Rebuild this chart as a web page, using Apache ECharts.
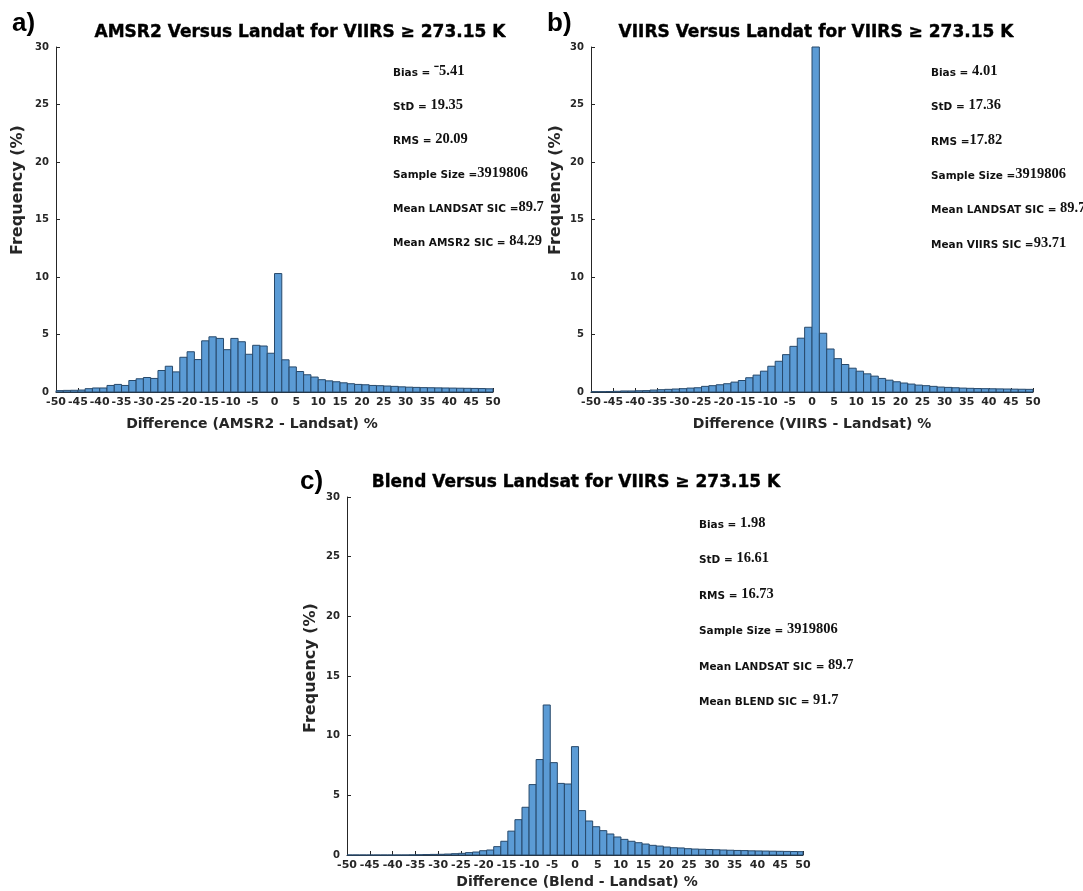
<!DOCTYPE html>
<html>
<head>
<meta charset="utf-8">
<script src="https://cdn.jsdelivr.net/npm/echarts@6/dist/echarts.min.js"></script>
<style>
html, body { margin: 0; padding: 0; background: #fff; }
#chart { width: 1083px; height: 891px; }
</style>
</head>
<body>
<div id="chart"></div>
<script>
// histogram frequencies (%)
// a) and b): 60 bins of width 5/3 starting at -50
var amsr2Freq = [
  0.12, 0.14, 0.15, 0.17, 0.29, 0.35, 0.35, 0.57, 0.66, 0.57,
  1.0, 1.15, 1.26, 1.18, 1.87, 2.24, 1.75, 3.02, 3.5, 2.82,
  4.45, 4.8, 4.66, 3.68, 4.66, 4.37, 3.28, 4.06, 4.0, 3.37,
  10.3, 2.8, 2.18, 1.78, 1.5, 1.3, 1.07, 0.97, 0.89, 0.8,
  0.72, 0.66, 0.63, 0.57, 0.55, 0.52, 0.49, 0.45, 0.42, 0.4,
  0.38, 0.37, 0.36, 0.35, 0.34, 0.33, 0.32, 0.31, 0.3, 0.28
];
var viirsFreq = [
  0.03, 0.03, 0.04, 0.06, 0.09, 0.09, 0.11, 0.12, 0.17, 0.2,
  0.23, 0.26, 0.29, 0.34, 0.37, 0.49, 0.55, 0.63, 0.72, 0.86,
  1.0, 1.24, 1.47, 1.81, 2.24, 2.67, 3.25, 3.97, 4.68, 5.63,
  30, 5.11, 3.74, 2.9, 2.39, 2.07, 1.81, 1.58, 1.38, 1.18,
  1.03, 0.89, 0.78, 0.69, 0.6, 0.55, 0.49, 0.43, 0.4, 0.37,
  0.34, 0.32, 0.3, 0.29, 0.28, 0.27, 0.26, 0.25, 0.24, 0.23
];
// c): 65 bins of width 1.55 centred on 0 (centres -32*1.55 .. 32*1.55)
var blendFreq = [
  0, 0, 0, 0, 0, 0, 0, 0, 0, 0.01,
  0.02, 0.04, 0.05, 0.06, 0.08, 0.11, 0.14, 0.2, 0.25, 0.36,
  0.42, 0.7, 1.15, 2.0, 2.96, 4.0, 5.9, 8.0, 12.57, 7.74,
  6.0, 5.95, 9.08, 3.72, 2.85, 2.37, 2.04, 1.76, 1.51, 1.31,
  1.15, 1.03, 0.92, 0.81, 0.75, 0.67, 0.61, 0.59, 0.53, 0.5,
  0.48, 0.46, 0.44, 0.42, 0.4, 0.38, 0.37, 0.35, 0.34, 0.33,
  0.32, 0.31, 0.3, 0.29, 0.28
];

var panelTitles = [
  'AMSR2 Versus Landat for VIIRS \u2265 273.15 K',
  'VIIRS Versus Landat for VIIRS \u2265 273.15 K',
  'Blend Versus Landsat for VIIRS \u2265 273.15 K'
];
var xTitles = [
  'Difference (AMSR2 - Landsat) %',
  'Difference (VIIRS - Landsat) %',
  'Difference (Blend - Landsat) %'
];
var statLabels = [
  ['Bias = ', 'StD = ', 'RMS = ', 'Sample Size =', 'Mean LANDSAT SIC =', 'Mean AMSR2 SIC = '],
  ['Bias = ', 'StD = ', 'RMS =', 'Sample Size =', 'Mean LANDSAT SIC = ', 'Mean VIIRS SIC ='],
  ['Bias = ', 'StD = ', 'RMS = ', 'Sample Size = ', 'Mean LANDSAT SIC = ', 'Mean BLEND SIC = ']
];
var statValues = [
  ['\u207b5.41', '19.35', '20.09', '3919806', '89.7', '84.29'],
  ['4.01', '17.36', '17.82', '3919806', '89.7', '93.71'],
  ['1.98', '16.61', '16.73', '3919806', '89.7', '91.7']
];

var BAR_FILL = '#5b9bd5';
var BAR_LINE = '#27496b';
var AXIS_COLOR = '#262626';
var LABEL_FONT = 'DejaVu Sans';

function binsFrom(freq, start, width) {
  var out = [];
  for (var i = 0; i < freq.length; i++) {
    out.push([start + i * width, start + (i + 1) * width, freq[i]]);
  }
  return out;
}

function renderBar(params, api) {
  var top = api.coord([api.value(0), api.value(2)]);
  var bottom = api.coord([api.value(1), 0]);
  var cs = params.coordSys;
  var shape = echarts.graphic.clipRectByRect(
    { x: top[0], y: top[1], width: bottom[0] - top[0], height: bottom[1] - top[1] },
    { x: cs.x, y: cs.y - 1, width: cs.width, height: cs.height + 1 }
  );
  return shape && {
    type: 'rect',
    shape: shape,
    style: { fill: BAR_FILL, stroke: BAR_LINE, lineWidth: 1 }
  };
}

var grids = [
  { left: 56, top: 47, width: 437, height: 345 },
  { left: 591, top: 47, width: 442, height: 345 },
  { left: 347, top: 497, width: 456, height: 358 }
];
var seriesData = [
  binsFrom(amsr2Freq, -50, 5 / 3),
  binsFrom(viirsFreq, -50, 5 / 3),
  binsFrom(blendFreq, -32.5 * 1.55, 1.55)
];

var xAxes = [], yAxes = [], series = [];
for (var i = 0; i < 3; i++) {
  xAxes.push({
    type: 'value', gridIndex: i, min: -50, max: 50, interval: 5,
    axisLine: { show: true, onZero: false, lineStyle: { color: AXIS_COLOR, width: 1 } },
    axisTick: { show: true, inside: true, length: 4, lineStyle: { color: AXIS_COLOR } },
    axisLabel: { color: AXIS_COLOR, fontFamily: LABEL_FONT, fontWeight: 'bold', fontSize: 11, margin: 5 },
    splitLine: { show: false }
  });
  yAxes.push({
    type: 'value', gridIndex: i, min: 0, max: 30, interval: 5,
    axisLine: { show: true, onZero: false, lineStyle: { color: AXIS_COLOR, width: 1 } },
    axisTick: { show: true, inside: true, length: 4, lineStyle: { color: AXIS_COLOR } },
    axisLabel: { color: AXIS_COLOR, fontFamily: LABEL_FONT, fontWeight: 'bold', fontSize: 10, margin: 7 },
    splitLine: { show: false }
  });
  series.push({
    type: 'custom', xAxisIndex: i, yAxisIndex: i,
    renderItem: renderBar,
    encode: { x: [0, 1], y: 2 },
    data: seriesData[i],
    silent: true
  });
}

// text placement
var titlePos = [[300, 33], [816, 33], [576, 483]];
var tagPos = [[12, 24, 'a)'], [547, 24, 'b)'], [300, 482, 'c)']];
var yTitlePos = [[18, 190], [556, 190], [311, 668]];
var xTitlePos = [[252, 424], [812, 424], [577, 882]];
var statPos = [[393, 71, 34], [931, 71, 34.4], [699, 523, 35.5]];

var graphics = [];
for (var p = 0; p < 3; p++) {
  graphics.push({
    type: 'text', x: titlePos[p][0], y: titlePos[p][1],
    style: {
      text: panelTitles[p], fill: '#000', align: 'center', verticalAlign: 'middle',
      font: 'bold 17px "DejaVu Sans", sans-serif',
      stroke: '#000', lineWidth: 0.4
    }
  });
  graphics.push({
    type: 'text', x: tagPos[p][0], y: tagPos[p][1],
    style: {
      text: tagPos[p][2], fill: '#000', align: 'left', verticalAlign: 'middle',
      font: 'bold 26px "Liberation Sans", Arial, sans-serif'
    }
  });
  graphics.push({
    type: 'text', x: yTitlePos[p][0], y: yTitlePos[p][1], rotation: Math.PI / 2,
    style: {
      text: 'Frequency (%)', fill: AXIS_COLOR, align: 'center', verticalAlign: 'middle',
      font: 'bold 16px "DejaVu Sans", sans-serif'
    }
  });
  graphics.push({
    type: 'text', x: xTitlePos[p][0], y: xTitlePos[p][1],
    style: {
      text: xTitles[p], fill: AXIS_COLOR, align: 'center', verticalAlign: 'middle',
      font: 'bold 14px "DejaVu Sans", sans-serif'
    }
  });
  for (var k = 0; k < statLabels[p].length; k++) {
    graphics.push({
      type: 'text', x: statPos[p][0], y: statPos[p][1] + k * statPos[p][2],
      style: {
        text: '{l|' + statLabels[p][k] + '}{v|' + statValues[p][k] + '}',
        align: 'left', verticalAlign: 'middle',
        rich: {
          l: { fontFamily: 'DejaVu Sans', fontWeight: 'bold', fontSize: 10.5, fill: '#111', verticalAlign: 'bottom' },
          v: { fontFamily: 'Liberation Serif', fontWeight: 'bold', fontSize: 14.5, fill: '#111', verticalAlign: 'bottom' }
        }
      }
    });
  }
}

var chart = echarts.init(document.getElementById('chart'));
chart.setOption({
  animation: false,
  backgroundColor: '#fff',
  grid: grids,
  xAxis: xAxes,
  yAxis: yAxes,
  series: series,
  graphic: graphics
});
</script>
</body>
</html>
